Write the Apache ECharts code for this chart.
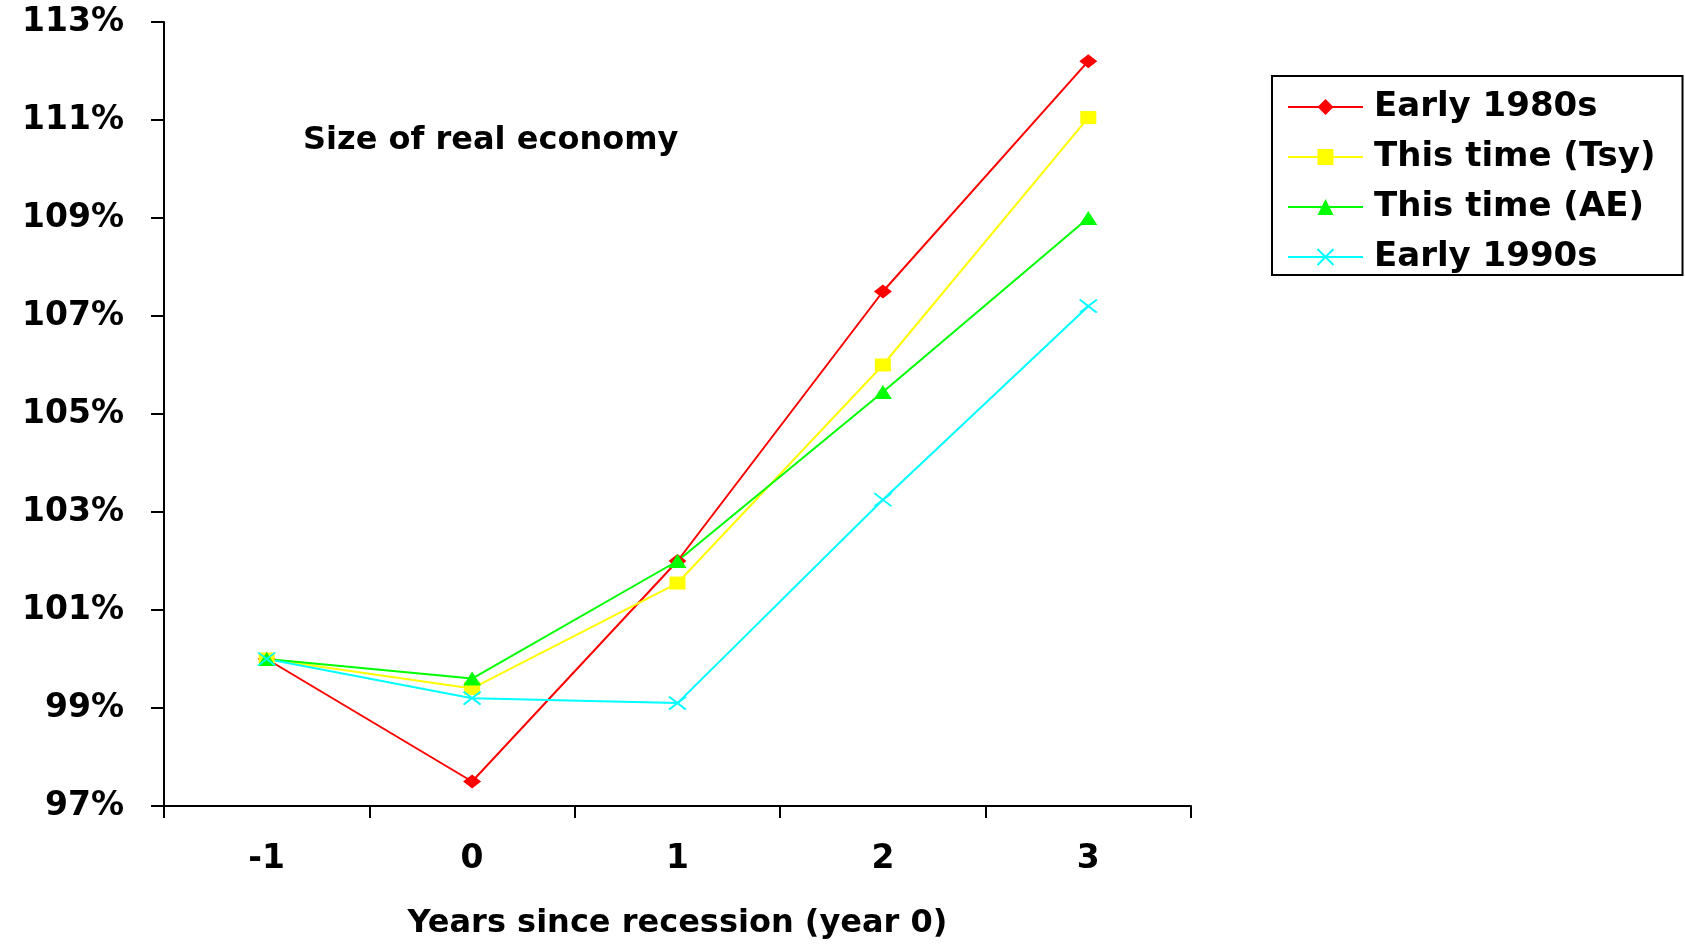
<!DOCTYPE html>
<html>
<head>
<meta charset="utf-8">
<title>Size of real economy</title>
<script src="https://cdn.jsdelivr.net/npm/echarts@6/dist/echarts.min.js"></script>
<style>
  html, body { margin: 0; padding: 0; background: #ffffff; }
  #chart { width: 1685px; height: 945px; }
</style>
</head>
<body>
<div id="chart"></div>
<script>
// Years relative to the start of the recession (year 0)
const categories = ['-1', '0', '1', '2', '3'];

// Real GDP, indexed so that year -1 = 100%
const early1980s  = [100, 97.5, 102.0, 107.5, 112.2];
const thisTimeTsy = [100, 99.4, 101.55, 106.0, 111.05];
const thisTimeAE  = [100, 99.6, 102.0, 105.45, 109.0];
const early1990s  = [100, 99.2, 99.1, 103.25, 107.2];

const seriesNames = ['Early 1980s', 'This time (Tsy)', 'This time (AE)', 'Early 1990s'];

const FONT = 'DejaVu Sans';
const crossSymbol = 'path://M0,0L10,10M10,0L0,10';

function lineSeries(name, data, color, symbol, size, extraItemStyle) {
  return {
    name: name,
    type: 'line',
    data: data,
    symbol: symbol,
    symbolSize: size,
    showAllSymbol: true,
    lineStyle: { color: color, width: 2 },
    itemStyle: Object.assign({ color: color, borderWidth: 0 }, extraItemStyle || {}),
    emphasis: { disabled: true },
    animation: false
  };
}

const chart = echarts.init(document.getElementById('chart'), null, { renderer: 'canvas' });

chart.setOption({
  backgroundColor: '#ffffff',
  animation: false,
  title: {
    text: 'Size of real economy',
    left: 303,
    top: 125,
    padding: 0,
    textStyle: { fontFamily: FONT, fontWeight: 'bold', fontSize: 32, color: '#000000' }
  },
  legend: {
    data: seriesNames,
    orient: 'vertical',
    left: 1272,
    top: 76,
    padding: [13, 27, 0, 15],
    itemWidth: 75,
    itemHeight: 20,
    itemGap: 14,
    borderColor: '#000000',
    borderWidth: 2,
    backgroundColor: '#ffffff',
    selectedMode: false,
    textStyle: {
      fontFamily: FONT,
      fontWeight: 'bold',
      fontSize: 34,
      lineHeight: 36,
      color: '#000000',
      padding: [0, 0, 0, 6]
    }
  },
  grid: { left: 164, right: 494, top: 22, bottom: 138 },
  xAxis: {
    type: 'category',
    data: categories,
    boundaryGap: true,
    name: 'Years since recession (year 0)',
    nameLocation: 'middle',
    nameGap: 102,
    nameTextStyle: { fontFamily: FONT, fontWeight: 'bold', fontSize: 32, color: '#000000' },
    axisLine: { show: true, lineStyle: { color: '#000000', width: 2 } },
    axisTick: { show: true, length: 12, lineStyle: { color: '#000000', width: 2 } },
    axisLabel: { fontFamily: FONT, fontWeight: 'bold', fontSize: 33, color: '#000000', margin: 37 },
    splitLine: { show: false }
  },
  yAxis: {
    type: 'value',
    min: 97,
    max: 113,
    interval: 2,
    axisLine: { show: true, lineStyle: { color: '#000000', width: 2 } },
    axisTick: { show: true, length: 13, lineStyle: { color: '#000000', width: 2 } },
    axisLabel: {
      fontFamily: FONT, fontWeight: 'bold', fontSize: 33, color: '#000000', margin: 40,
      formatter: '{value}%'
    },
    splitLine: { show: false }
  },
  series: [
    lineSeries(seriesNames[0], early1980s, '#ff0000', 'diamond', [18, 14]),
    lineSeries(seriesNames[1], thisTimeTsy, '#ffff00', 'rect', [16, 13]),
    lineSeries(seriesNames[2], thisTimeAE, '#00ff00', 'triangle', [18, 14]),
    lineSeries(seriesNames[3], early1990s, '#00ffff', crossSymbol, [17, 13],
      { color: 'none', borderColor: '#00ffff', borderWidth: 2 })
  ]
});
</script>
</body>
</html>
